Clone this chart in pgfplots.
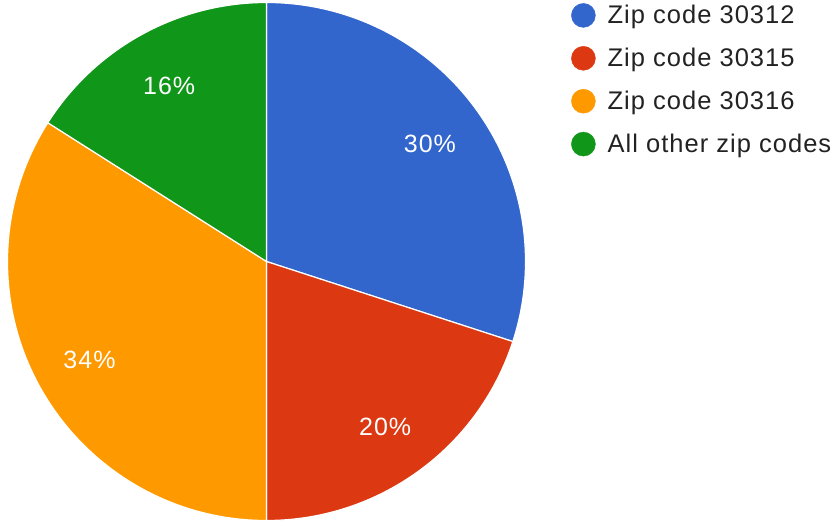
\documentclass[border=0pt]{standalone}
\usepackage{pgfplots}
\usepackage{pgfplotstable}
\pgfplotsset{compat=1.18}
\usepackage{fontspec}
\setmainfont{Liberation Sans}[LetterSpace=4]

\definecolor{zipblue}{HTML}{3366CC}
\definecolor{zipred}{HTML}{DC3912}
\definecolor{ziporange}{HTML}{FF9900}
\definecolor{zipgreen}{HTML}{109618}
\definecolor{legtext}{HTML}{222222}

% share of each zip code, in percent, clockwise from 12 o'clock
\pgfplotstableread[col sep=comma]{
label,value,color
Zip code 30312,30,zipblue
Zip code 30315,20,zipred
Zip code 30316,34,ziporange
All other zip codes,16,zipgreen
}\piedata

\begin{document}
\begin{tikzpicture}
\begin{axis}[
    hide axis,
    x=1pt, y=1pt,
    xmin=0, xmax=835, ymin=0, ymax=523,
    clip=false,
    legend cell align=left,
    legend style={at={(axis cs:571,520)}, anchor=north west, draw=none, fill=none,
        inner sep=0pt,
        font=\fontsize{25.5}{30}\selectfont\color{legtext},
        row sep=18.5pt,
        /tikz/every odd column/.append style={column sep=10pt}},
    legend image code/.code={\fill[#1] (12pt,0pt) circle (12pt);},
    ]
\coordinate (ll) at (axis cs:0,0);
\coordinate (ur) at (axis cs:835,523);
\pgfplotstablegetrowsof{\piedata}
\pgfmathtruncatemacro\nrows{\pgfplotsretval-1}
\def\cum{0}
\pgfplotsforeachungrouped \i in {0,...,\nrows}{%
    \pgfplotstablegetelem{\i}{value}\of\piedata \let\val\pgfplotsretval
    \pgfplotstablegetelem{\i}{color}\of\piedata \let\col\pgfplotsretval
    \pgfmathsetmacro\a{90-3.6*\cum}
    \pgfmathsetmacro\b{90-3.6*(\cum+\val)}
    \pgfmathsetmacro\m{(\a+\b)/2}
    \edef\temp{%
        \noexpand\fill[\col, draw=white, line width=1.2pt] (axis cs:266.5,261.5) -- ++(\a:259pt)
            arc[start angle=\a, end angle=\b, radius=259pt] -- cycle;
        \noexpand\path (axis cs:266.5,260) ++(\m:202pt)
            node[text=white, font=\noexpand\fontsize{25}{30}\noexpand\selectfont] {\val\noexpand\%};
    }%
    \temp
    \pgfmathsetmacro\cum{\cum+\val}
}
\addlegendimage{zipblue}\addlegendentry{Zip code 30312}
\addlegendimage{zipred}\addlegendentry{Zip code 30315}
\addlegendimage{ziporange}\addlegendentry{Zip code 30316}
\addlegendimage{zipgreen}\addlegendentry{All other zip codes}
\end{axis}
\pgfresetboundingbox
\useasboundingbox (ll) rectangle (ur);
\end{tikzpicture}
\end{document}
